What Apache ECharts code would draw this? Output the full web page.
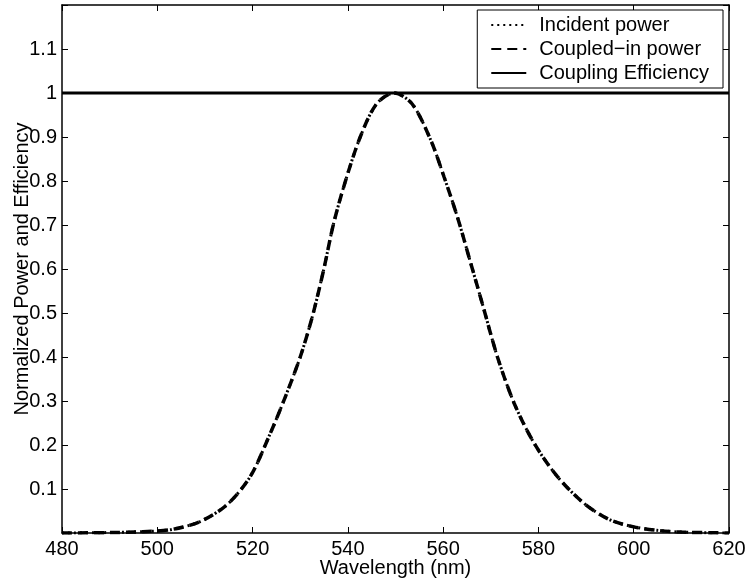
<!DOCTYPE html>
<html>
<head>
<meta charset="utf-8">
<script src="https://cdn.jsdelivr.net/npm/echarts@6/dist/echarts.min.js"></script>
<style>html,body{margin:0;padding:0;background:#fff;}#c{width:749px;height:584px;}</style>
</head>
<body>
<div id="c"></div>
<script>
// Wavelength samples (nm)
const wavelengths = [480, 490, 497, 503, 509, 514.6, 519.5, 523.7, 526.9, 530, 532.5, 534.9, 537, 539.5, 542.6, 546, 549.7, 553.5, 557.4, 560.2, 563, 565.4, 568.2, 571.4, 574.9, 579.1, 584, 589.6, 595, 600, 605, 610, 620];
// Incident power (dotted) – overlaps coupled-in power
const incidentPower = [0, 0.001, 0.003, 0.008, 0.026, 0.064, 0.128, 0.226, 0.31, 0.40, 0.49, 0.597, 0.703, 0.80, 0.90, 0.975, 1.0, 0.975, 0.893, 0.809, 0.718, 0.628, 0.522, 0.40, 0.295, 0.204, 0.128, 0.067, 0.03, 0.014, 0.006, 0.002, 0];
// Coupled-in power (dashed)
const coupledPower = [0, 0.001, 0.003, 0.008, 0.026, 0.064, 0.128, 0.226, 0.31, 0.40, 0.49, 0.597, 0.703, 0.80, 0.90, 0.975, 1.0, 0.975, 0.893, 0.809, 0.718, 0.628, 0.522, 0.40, 0.295, 0.204, 0.128, 0.067, 0.03, 0.014, 0.006, 0.002, 0];
// Coupling efficiency (solid)
const effWavelengths = [480, 620];
const efficiency = [1, 1];

const seriesNames = ['Incident power', 'Coupled\u2212in power', 'Coupling Efficiency'];
const xTicks = [480, 500, 520, 540, 560, 580, 600, 620];
const yTickLabels = ['0.1','0.2','0.3','0.4','0.5','0.6','0.7','0.8','0.9','1','1.1'];

const zip = (xs, ys) => xs.map((x, i) => [x, ys[i]]);
const FONT = 'Liberation Sans, Arial, Helvetica, sans-serif';
const FS = 20;

const chart = echarts.init(document.getElementById('c'));
const axisCommon = {
  axisLine: { show: true, onZero: false, lineStyle: { color: '#000', width: 1.5 } },
  axisTick: { show: true, inside: true, length: 6, lineStyle: { color: '#000', width: 1 } },
  splitLine: { show: false }
};
chart.setOption({
  backgroundColor: '#fff',
  animation: false,
  grid: { left: 62, right: 20, top: 5, bottom: 51, containLabel: false, outerBoundsMode: 'none' },
  legend: {
    orient: 'vertical',
    right: 26,
    top: 10,
    padding: [5, 14, 5, 13],
    itemWidth: 35,
    itemHeight: 16,
    itemGap: 4,
    borderColor: '#000',
    borderWidth: 1,
    borderRadius: 0,
    backgroundColor: '#fff',
    itemStyle: { opacity: 0 },
    textStyle: { fontFamily: FONT, fontSize: FS, color: '#000', padding: [0, 0, 0, 8] },
    data: seriesNames
  },
  xAxis: [
    Object.assign({}, axisCommon, {
      type: 'value', min: 480, max: 620, interval: 20, position: 'bottom',
      name: 'Wavelength (nm)', nameLocation: 'middle', nameGap: 25, nameMoveOverlap: false,
      nameTextStyle: { fontFamily: FONT, fontSize: FS, color: '#000' },
      axisLabel: { fontFamily: FONT, fontSize: FS, color: '#000', margin: 6,
        formatter: v => xTicks.includes(v) ? String(v) : '' }
    }),
    Object.assign({}, axisCommon, {
      type: 'value', min: 480, max: 620, interval: 20, position: 'top',
      axisLabel: { show: false }
    })
  ],
  yAxis: [
    Object.assign({}, axisCommon, {
      type: 'value', min: 0, max: 1.2, interval: 0.1, position: 'left',
      name: 'Normalized Power and Efficiency', nameLocation: 'middle', nameGap: 30, nameMoveOverlap: false,
      nameTextStyle: { fontFamily: FONT, fontSize: FS, color: '#000' },
      axisLabel: { fontFamily: FONT, fontSize: FS, color: '#000', margin: 5,
        formatter: v => { const s = String(+v.toFixed(1)); return yTickLabels.includes(s) ? s : ''; } }
    }),
    Object.assign({}, axisCommon, {
      type: 'value', min: 0, max: 1.2, interval: 0.1, position: 'right',
      axisLabel: { show: false }
    })
  ],
  series: [
    {
      name: seriesNames[0], type: 'line', xAxisIndex: 0, yAxisIndex: 0,
      data: zip(wavelengths, incidentPower), smooth: 0.3, symbol: 'none', showSymbol: false,
      itemStyle: { color: '#000' },
      lineStyle: { color: '#000', width: 3, type: [2, 4] }, z: 3
    },
    {
      name: seriesNames[1], type: 'line', xAxisIndex: 0, yAxisIndex: 0,
      data: zip(wavelengths, coupledPower), smooth: 0.3, symbol: 'none', showSymbol: false,
      itemStyle: { color: '#000' },
      lineStyle: { color: '#000', width: 3.5, type: [10, 6] }, z: 4
    },
    {
      name: seriesNames[2], type: 'line', xAxisIndex: 0, yAxisIndex: 0,
      data: zip(effWavelengths, efficiency), symbol: 'none', showSymbol: false,
      itemStyle: { color: '#000' },
      lineStyle: { color: '#000', width: 3, type: 'solid' }, z: 5
    }
  ]
});
</script>
</body>
</html>
